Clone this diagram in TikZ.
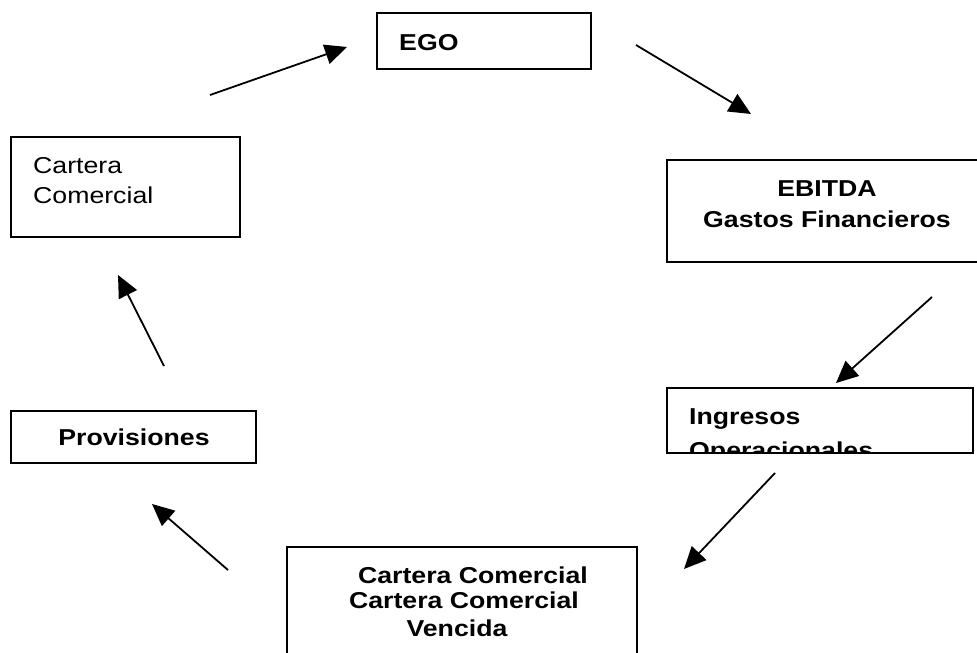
\documentclass[tikz,border=0pt]{standalone}
\usepackage{fontspec}
\setmainfont{Liberation Sans}[FakeStretch=1.16]
\usepackage{tikz}
\usetikzlibrary{arrows.meta}
\tikzset{
  box/.style={draw, line width=1.6pt, rectangle, inner sep=0pt},
  txt/.style={font=\fontsize{23}{30}\selectfont, inner sep=0pt},
  flow/.style={line width=1.8pt, -{Triangle[length=22pt,width=20pt]}}
}

\begin{document}
\begin{tikzpicture}[x=1pt, y=-1pt]
\clip (0,0) rectangle (977,653);

% the six boxes of the cycle
\node[box, minimum width=214pt, minimum height=56pt] (ego) at (484,41) {};
\node[box, minimum width=229pt, minimum height=100pt] (cartera) at (125.5,187) {};
\node[box, minimum width=323pt, minimum height=102pt] (ebitda) at (828.5,211) {};
\node[box, minimum width=306pt, minimum height=65pt] (ingresos) at (820,420.5) {};
\node[box, minimum width=245pt, minimum height=52pt] (provis) at (133.5,437) {};
\node[box, minimum width=350pt, minimum height=133pt] (vencida) at (462,613.5) {};

% texts
\node[txt, anchor=base west] (egoA) at (399,50) {\bfseries EGO};
\node[txt, anchor=base west] (carteraA) at (33,173) {Cartera};
\node[txt, anchor=base west] (carteraB) at (33,203) {Comercial};
\node[txt, anchor=base] (ebitdaA) at (827,196) {\bfseries EBITDA};
\node[txt, anchor=base] (ebitdaB) at (827,227) {\bfseries Gastos Financieros};
\begin{scope}
\clip (ingresos.south west) rectangle (ingresos.north east);
\node[txt, anchor=base west] (ingresosA) at (689,424) {\bfseries Ingresos};
\node[txt, anchor=base west] (ingresosB) at (689,458) {\bfseries Operacionales};
\end{scope}
\node[txt, anchor=base] (provisA) at (134,445) {\bfseries Provisiones};
\node[txt, anchor=base] (vencidaA) at (473,583) {\bfseries Cartera Comercial};
\node[txt, anchor=base] (vencidaB) at (464,608) {\bfseries Cartera Comercial};
\node[txt, anchor=base] (vencidaC) at (457,636) {\bfseries Vencida};

% free arrow ends
\coordinate (a1s) at (210,95);  \coordinate (a1e) at (347,47);
\coordinate (a2s) at (636,45);  \coordinate (a2e) at (751,114);
\coordinate (a3s) at (932,297); \coordinate (a3e) at (836,383);
\coordinate (a4s) at (775,473); \coordinate (a4e) at (684,569);
\coordinate (a5s) at (228,570); \coordinate (a5e) at (152,504);
\coordinate (a6s) at (164,366); \coordinate (a6e) at (118,275);

\draw[flow] (a1s) -- (a1e);
\draw[flow] (a2s) -- (a2e);
\draw[flow] (a3s) -- (a3e);
\draw[flow] (a4s) -- (a4e);
\draw[flow] (a5s) -- (a5e);
\draw[flow] (a6s) -- (a6e);

\end{tikzpicture}
\end{document}
